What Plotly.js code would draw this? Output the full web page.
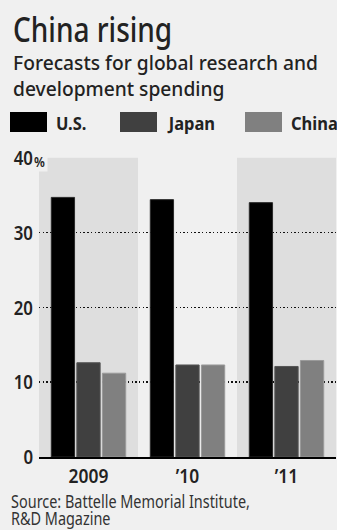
<!DOCTYPE html>
<html>
<head>
<meta charset="utf-8">
<script src="https://cdn.plot.ly/plotly-3.0.1.min.js"></script>
<style>
html,body{margin:0;padding:0;background:#f0f0f0;}
#chart{width:337px;height:530px;}
</style>
</head>
<body>
<div id="chart"></div>
<script>
// ---- data ----
const years = ["2009", "\u201910", "\u201911"];
const seriesNames = ["U.S.", "Japan", "China"];
const usValues = [34.7, 34.4, 34.0];
const japanValues = [12.6, 12.3, 12.1];
const chinaValues = [11.2, 12.3, 12.9];
const yTickVals = [0, 10, 20, 30, 40];
const yTickText = ["0", "10", "20", "30", "40"];

const title = "China rising";
const subtitle1 = "Forecasts for global research and";
const subtitle2 = "development spending";
const source1 = "Source: Battelle Memorial Institute,";
const source2 = "R&amp;D Magazine";

// ---- style ----
const colors = ["#000000", "#404040", "#808080"];
const lineColors = ["#2a2a2a", "#555555", "#9a9a9a"];
const W = 337, H = 530;
const M = {l: 39, r: 1, t: 157, b: 73};
const PW = W - M.l - M.r, PH = H - M.t - M.b;
const px = x => (x - M.l) / PW;
const py = y => (H - M.b - y) / PH;
const sans = "'Noto Sans', 'Open Sans', sans-serif";
const textCol = "#222222";

const allValues = [usValues, japanValues, chinaValues];
const traces = allValues.map((vals, i) => ({
  type: "bar",
  x: years,
  y: vals,
  name: seriesNames[i],
  marker: {color: colors[i], line: {color: lineColors[i], width: 1}},
  hoverinfo: "skip",
  showlegend: false
}));

const shapes = [];
// shaded category bands
[0, 2].forEach(c => shapes.push({
  type: "rect", xref: "x", yref: "y", x0: c - 0.5, x1: c + 0.5, y0: 0, y1: 40,
  fillcolor: "#dedede", line: {width: 0}, layer: "below"
}));
// legend swatches
const legendX = [10, 120, 245];
const legendTextX = [55, 166, 290];
legendX.forEach((x, i) => shapes.push({
  type: "rect", xref: "paper", yref: "paper",
  x0: px(x), x1: px(x + 37), y0: py(132), y1: py(112),
  fillcolor: colors[i], line: {width: 0}
}));

// 'sx' = horizontal condensing factor applied after render
const annotations = [
  {text: title, x: px(11), y: py(28), sx: 0.80, font: {family: sans, size: 35, color: textCol, weight: 500}},
  {text: subtitle1, x: px(11), y: py(62), sx: 0.985, font: {family: sans, size: 19.5, color: textCol, weight: 500}},
  {text: subtitle2, x: px(11), y: py(88.5), sx: 0.985, font: {family: sans, size: 19.5, color: textCol, weight: 500}},
  {text: source1, x: px(10), y: py(500.5), sx: 0.78, borderpad: 0, font: {family: sans, size: 18.5, color: "#333"}},
  {text: source2, x: px(10), y: py(517.3), sx: 0.78, borderpad: 0, font: {family: sans, size: 18.5, color: "#333"}},
  {text: "%", x: px(33), y: py(161), sx: 0.83, bgcolor: "#f0f0f0", borderpad: 0,
   font: {family: sans, size: 15, color: textCol, weight: 600}}
].concat(seriesNames.map((n, i) => ({
  text: "<b>" + n + "</b>", x: px(legendTextX[i] - 1), y: py(122.5), sx: 0.89,
  font: {family: sans, size: 18.5, color: textCol}
})));
const condense = annotations.map(a => a.sx);
annotations.forEach(a => {
  delete a.sx;
  a.xref = "paper"; a.yref = "paper"; a.xanchor = "left"; a.yanchor = "middle";
  a.showarrow = false;
});

const layout = {
  width: W, height: H,
  margin: M,
  paper_bgcolor: "#f0f0f0",
  plot_bgcolor: "#f0f0f0",
  barmode: "group",
  bargap: 0.225,
  bargroupgap: 0.09,
  showlegend: false,
  xaxis: {
    type: "category",
    range: [-0.5, 2.5],
    showgrid: false,
    showline: true, linecolor: "#000", linewidth: 2,
    ticks: "",
    tickfont: {family: sans, size: 20, color: textCol, weight: 600},
    fixedrange: true
  },
  yaxis: {
    range: [0, 40.1],
    tickvals: yTickVals, ticktext: yTickText,
    showgrid: true, gridcolor: "#111", gridwidth: 1.4, griddash: "1.4px,2.3px",
    zeroline: false, showline: false,
    ticks: "", ticklabelstandoff: 5,
    tickfont: {family: sans, size: 20.5, color: textCol, weight: 600},
    fixedrange: true
  },
  shapes: shapes,
  annotations: annotations
};

function squeeze(el, s, anchor) {
  if (s === 1) return;
  const b = el.getBBox();
  const ox = anchor === "left" ? b.x : anchor === "right" ? b.x + b.width : b.x + b.width / 2;
  const prev = el.getAttribute("transform") || "";
  el.setAttribute("transform", prev + " translate(" + ox + ",0) scale(" + s + ",1) translate(" + (-ox) + ",0)");
}

Plotly.newPlot("chart", traces, layout, {displayModeBar: false, staticPlot: true}).then(gd => {
  gd.querySelectorAll(".annotation").forEach((g, i) => {
    const t = g.querySelector("text.annotation-text");
    if (t) squeeze(t, condense[i], "left");
  });
  gd.querySelectorAll("g.ytick").forEach(g => squeeze(g, 0.82, "right"));
  gd.querySelectorAll("g.xtick").forEach(g => squeeze(g, 0.87, "center"));
});
</script>
</body>
</html>
